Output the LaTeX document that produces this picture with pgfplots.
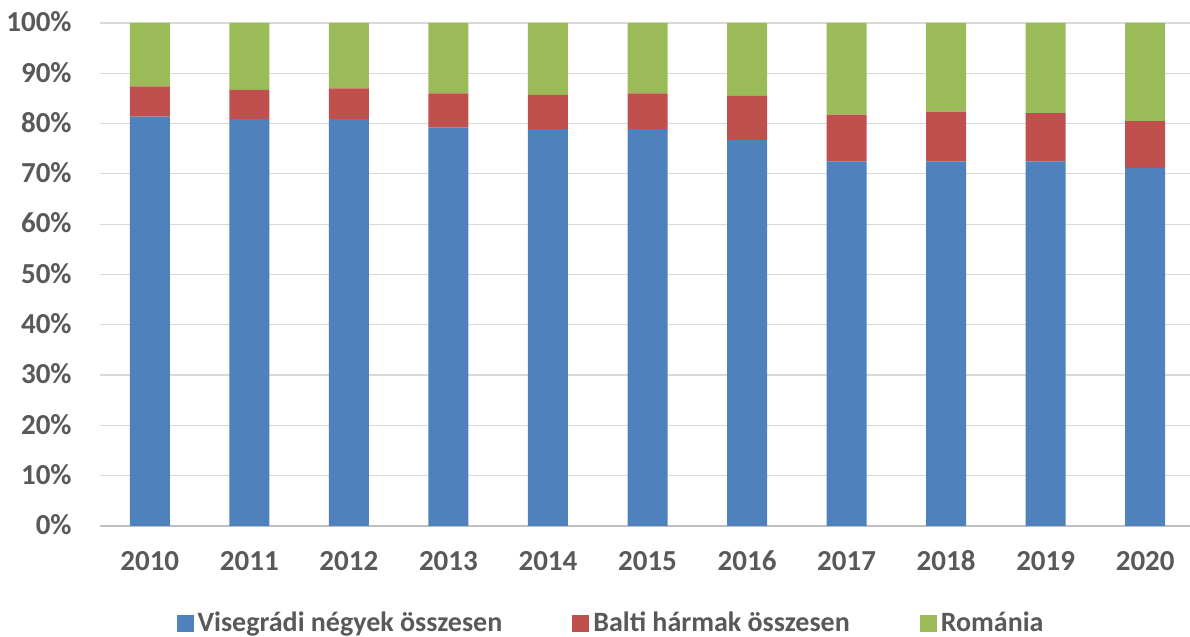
\documentclass[border=0pt]{standalone}
\usepackage{pgfplots}
\pgfplotsset{compat=1.18}
\usepackage{fontspec}
\setmainfont{Carlito}
\definecolor{cblue}{HTML}{4F81BD}
\definecolor{cred}{HTML}{C0504D}
\definecolor{cgreen}{HTML}{9BBB59}
\definecolor{ctext}{HTML}{595959}
\definecolor{cgrid}{HTML}{D9D9D9}
\definecolor{caxis}{HTML}{BFBFBF}
\pgfplotsset{
  mylegend/.style={legend image code/.code={\fill[##1] (0pt,-4.25pt) rectangle (8.5pt,4.25pt);}}
}
\begin{document}
\begin{tikzpicture}
\useasboundingbox (0,0) rectangle (595pt,318.5pt);
\begin{axis}[
  at={(50pt,55.5pt)}, anchor=south west,
  scale only axis,
  width=547.5pt, height=251.5pt,
  ybar stacked,
  bar width=20pt,
  xmin=-0.5, xmax=10.5,
  ymin=0, ymax=100,
  xtick=data,
  xticklabels={2010,2011,2012,2013,2014,2015,2016,2017,2018,2019,2020},
  ytick={0,10,...,100},
  yticklabels={0\%,10\%,20\%,30\%,40\%,50\%,60\%,70\%,80\%,90\%,100\%},
  ymajorgrids,
  major grid style={cgrid, line width=0.6pt},
  major tick length=0pt,
  axis x line*=bottom,
  axis y line*=left,
  y axis line style={draw=none},
  x axis line style={caxis, line width=0.6pt, -},
  tick label style={font=\fontsize{14.5pt}{16pt}\selectfont\bfseries, text=ctext, inner sep=0pt},
  yticklabel style={anchor=base east, xshift=-14pt, yshift=-4.4pt},
  xticklabel style={anchor=base, yshift=-22.5pt},
  legend style={at={(0.4676,-0.193)}, anchor=center, draw=none, fill=none,
    legend columns=3, font=\fontsize{14pt}{16pt}\selectfont\bfseries, text=ctext,
    /tikz/every even column/.append style={column sep=33pt},
    inner sep=0pt, cells={anchor=west, inner sep=0pt, xshift=3.5pt}},
]
\addplot[fill=cblue, draw=none, mylegend] coordinates {
 (0,81.4) (1,80.9) (2,80.9) (3,79.2) (4,78.9) (5,78.9) (6,76.7) (7,72.5) (8,72.5) (9,72.5) (10,71.2)};
\addplot[fill=cred, draw=none, mylegend] coordinates {
 (0,6.0) (1,5.8) (2,6.1) (3,6.8) (4,6.8) (5,7.1) (6,8.8) (7,9.3) (8,9.9) (9,9.6) (10,9.3)};
\addplot[fill=cgreen, draw=none, mylegend] coordinates {
 (0,12.6) (1,13.3) (2,13.0) (3,14.0) (4,14.3) (5,14.0) (6,14.5) (7,18.2) (8,17.6) (9,17.9) (10,19.5)};
\legend{Visegrádi négyek összesen,Balti hármak összesen,Románia}
\end{axis}
\end{tikzpicture}
\end{document}
